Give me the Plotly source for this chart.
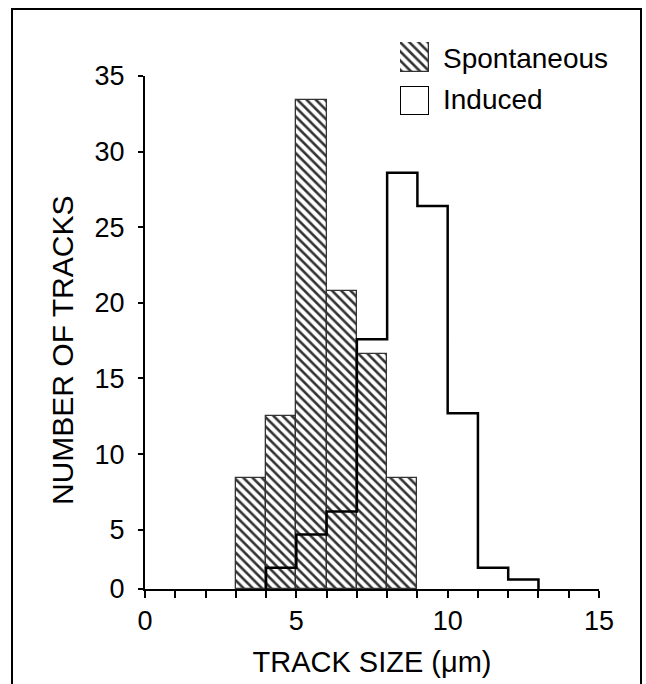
import plotly.graph_objects as go

# ---------------- data ----------------
SPONT_BIN_LEFT = [3, 4, 5, 6, 7, 8]
SPONT_COUNTS = [8.4, 12.5, 33.4, 20.8, 16.6, 8.4]

INDUCED_BIN_LEFT = [4, 5, 6, 7, 8, 9, 10, 11, 12]
INDUCED_COUNTS = [1.8, 4.6, 6.2, 17.6, 28.6, 26.4, 12.7, 1.8, 0.8]

Y_TICKS = [0, 5, 10, 15, 20, 25, 30, 35]
Y_TICK_LABELS = [str(t) for t in Y_TICKS]
X_TICKS = [0, 5, 10, 15]
X_TICK_LABELS = [str(t) for t in X_TICKS]

SERIES_NAMES = ["Spontaneous", "Induced"]
X_TITLE = "TRACK SIZE (\u03bcm)"
Y_TITLE = "NUMBER OF TRACKS"

# ---------------- y scale of the original (0-5 interval drawn compressed) ----------------
BREAK = 5.0
LOW_FACTOR = 0.784


def ys(v):
    return v if v >= BREAK else BREAK - (BREAK - v) * LOW_FACTOR


Y0 = ys(0)

FAMILY = "Liberation Sans, Arial, sans-serif"
FONT = dict(family=FAMILY, size=28, color="black")
TICK_FONT = dict(family=FAMILY, size=27, color="black")
TITLE_FONT = dict(family=FAMILY, size=29, color="black")
YTITLE_FONT = dict(family=FAMILY, size=30, color="black")
HATCH = dict(shape="\\", size=6.5, solidity=0.4, fgcolor="#333333", bgcolor="white", fillmode="replace")

# geometry (pixels)
W, H = 646, 684
ML, MR, MT, MB = 145, 47, 30, 95
PW, PH = W - ML - MR, H - MT - MB
PLOT_TOP_PX = 76


def px_x(p):
    return (p - ML) / PW


def px_y(p):
    return (H - MB - p) / PH


fig = go.Figure()

# spontaneous hatched bars
fig.add_trace(go.Bar(
    x=[b + 0.5 for b in SPONT_BIN_LEFT],
    y=[ys(v) - Y0 for v in SPONT_COUNTS],
    base=Y0,
    width=1,
    marker=dict(color="white", pattern=HATCH, line=dict(color="#333333", width=1.3)),
    name=SERIES_NAMES[0],
    showlegend=False,
    hoverinfo="skip",
))

# induced outline (step)
ix = [INDUCED_BIN_LEFT[0]] + INDUCED_BIN_LEFT + [INDUCED_BIN_LEFT[-1] + 1]
iy = [Y0] + [ys(v) for v in INDUCED_COUNTS] + [Y0]
fig.add_trace(go.Scatter(
    x=ix, y=iy, mode="lines", line=dict(color="black", width=2.5, shape="hv"),
    name=SERIES_NAMES[1], showlegend=False, hoverinfo="skip",
))

# legend patches on their own small axes
fig.add_trace(go.Bar(
    x=[0], y=[1], width=1, xaxis="x2", yaxis="y2", cliponaxis=False,
    marker=dict(color="white", pattern=HATCH, line=dict(color="#333333", width=1.3)),
    showlegend=False, hoverinfo="skip",
))
fig.add_trace(go.Bar(
    x=[0], y=[1], width=1, xaxis="x3", yaxis="y3", cliponaxis=False,
    marker=dict(color="white", line=dict(color="black", width=2)),
    showlegend=False, hoverinfo="skip",
))

hidden = dict(visible=False, fixedrange=True)
leg_x = [px_x(400), px_x(429)]

fig.update_layout(
    width=W, height=H,
    margin=dict(l=ML, r=MR, t=MT, b=MB),
    paper_bgcolor="white", plot_bgcolor="white",
    font=FONT,
    bargap=0,
    showlegend=False,
    xaxis=dict(
        range=[0, 15], tickvals=X_TICKS, ticktext=X_TICK_LABELS,
        ticks="outside", ticklen=7, tickwidth=2, tickcolor="black",
        minor=dict(dtick=1, ticks="outside", ticklen=7, tickwidth=2, tickcolor="black"),
        showline=True, linecolor="black", linewidth=2,
        showgrid=False, zeroline=False,
        tickfont=TICK_FONT,
        ticklabelstandoff=0,
        title=dict(text=X_TITLE, standoff=16, font=TITLE_FONT),
        anchor="y", fixedrange=True,
    ),
    yaxis=dict(
        range=[Y0, 35], domain=[0, px_y(PLOT_TOP_PX)],
        tickvals=[ys(t) for t in Y_TICKS], ticktext=Y_TICK_LABELS,
        ticks="outside", ticklen=5, tickwidth=2, tickcolor="black",
        showline=True, linecolor="black", linewidth=2,
        showgrid=False, zeroline=False,
        tickfont=TICK_FONT,
        ticklabelstandoff=8,
        anchor="x", fixedrange=True,
    ),
    xaxis2=dict(domain=leg_x, range=[-0.5, 0.5], anchor="y2", **hidden),
    yaxis2=dict(domain=[px_y(72), px_y(42)], range=[0, 1], anchor="x2", **hidden),
    xaxis3=dict(domain=leg_x, range=[-0.5, 0.5], anchor="y3", **hidden),
    yaxis3=dict(domain=[px_y(115), px_y(86)], range=[0, 1], anchor="x3", **hidden),
    annotations=[
        dict(text=SERIES_NAMES[0], xref="paper", yref="paper", x=px_x(441), y=px_y(58),
             xanchor="left", yanchor="middle", showarrow=False, font=FONT),
        dict(text=SERIES_NAMES[1], xref="paper", yref="paper", x=px_x(441), y=px_y(99),
             xanchor="left", yanchor="middle", showarrow=False, font=FONT),
        dict(text=Y_TITLE, xref="paper", yref="paper", x=px_x(62), y=px_y(351),
             xanchor="center", yanchor="middle", textangle=-90, showarrow=False, font=YTITLE_FONT),
    ],
    shapes=[
        dict(type="rect", xref="paper", yref="paper",
             x0=px_x(12), x1=px_x(641), y0=px_y(720), y1=px_y(9),
             line=dict(color="black", width=2), fillcolor="rgba(0,0,0,0)", layer="above"),
    ],
)

fig.write_html(
    "out.html",
    config={"displayModeBar": False},
    post_script="document.body.style.margin='0';document.body.style.overflow='hidden';",
)
